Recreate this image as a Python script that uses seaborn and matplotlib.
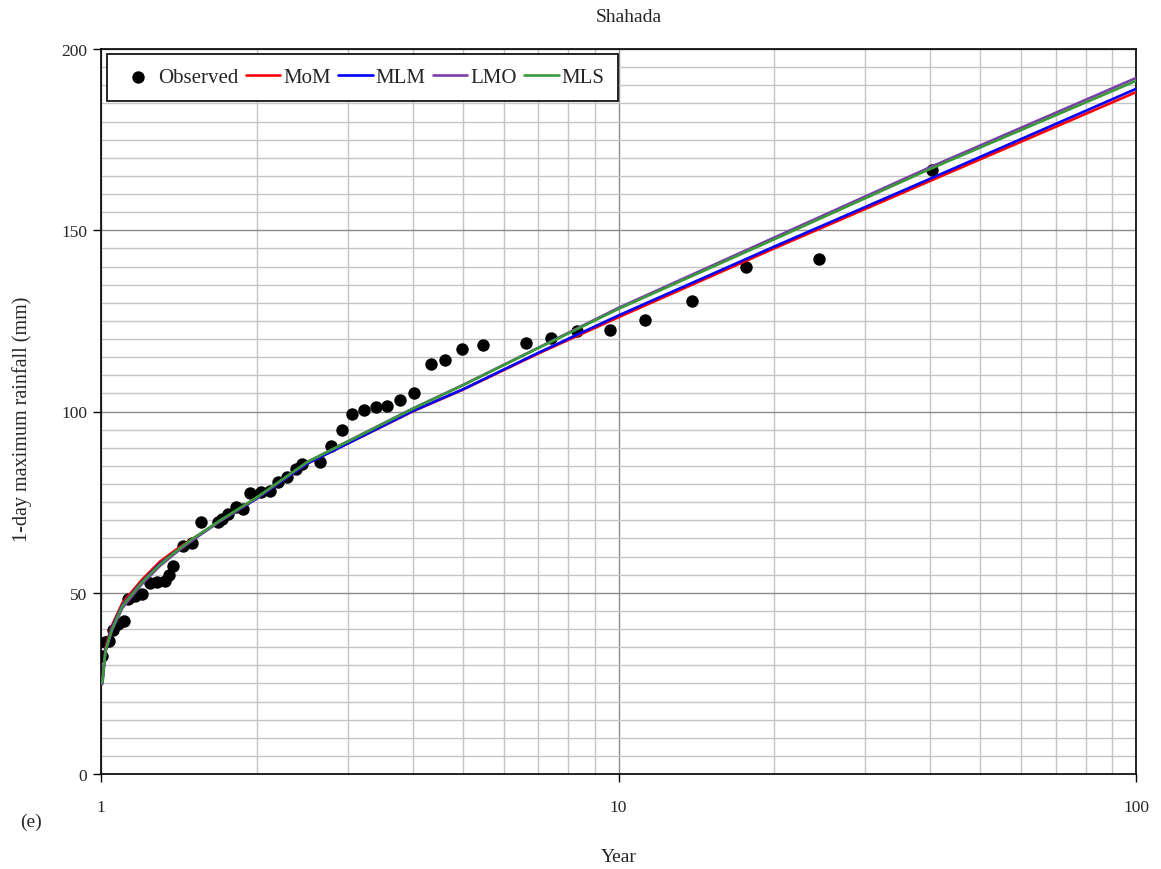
import numpy as np
import pandas as pd
import matplotlib
matplotlib.use('Agg')
import matplotlib.pyplot as plt
from matplotlib.ticker import FixedLocator, MultipleLocator, NullFormatter
import seaborn as sns

# Observed annual maxima (return period in years, rainfall in mm)
obs_T = [1.006, 1.018, 1.036, 1.056, 1.077, 1.109, 1.129, 1.163, 1.198, 1.244,
         1.281, 1.329, 1.355, 1.376, 1.442, 1.497, 1.558, 1.685, 1.711, 1.762,
         1.823, 1.878, 1.941, 2.038, 2.121, 2.194, 2.284, 2.381, 2.441, 2.646,
         2.779, 2.918, 3.056, 3.222, 3.396, 3.57, 3.78, 4.03, 4.34, 4.63,
         4.99, 5.47, 6.62, 7.39, 8.32, 9.62, 11.26, 13.84, 17.6, 24.4, 40.3]
obs_rain = [32.5, 36.3, 36.8, 39.8, 41.4, 42.3, 48.3, 49.2, 49.7, 52.7,
            53.0, 53.3, 54.9, 57.3, 62.8, 63.7, 69.4, 69.4, 70.3, 71.7,
            73.6, 73.1, 77.5, 77.9, 78.2, 80.6, 81.8, 84.1, 85.5, 86.2,
            90.6, 94.9, 99.3, 100.3, 101.2, 101.5, 103.2, 105.2, 113.2, 114.2,
            117.2, 118.3, 118.8, 120.3, 122.3, 122.6, 125.2, 130.6, 139.9, 142.2, 166.7]

# Fitted quantiles for each method
fit_T = [1.006, 1.02, 1.05, 1.1, 1.2, 1.3, 1.4, 1.5, 1.7, 2.0,
         2.5, 3.0, 4.0, 5.0, 7.0, 10.0, 20.0, 40.0, 100.0]
mom = [25.6, 34.8, 41.0, 47.2, 53.6, 58.6, 62.0, 64.8, 69.8, 76.0,
       85.6, 91.2, 100.0, 106.0, 116.0, 126.0, 145.0, 163.6, 188.1]
mlm = [25.2, 34.2, 40.4, 46.6, 53.0, 58.0, 61.6, 64.6, 69.8, 76.0,
       85.6, 91.2, 100.1, 106.1, 116.2, 126.5, 145.5, 164.2, 189.0]
lmo = [24.8, 33.6, 39.6, 45.8, 52.4, 57.4, 61.2, 64.4, 69.8, 76.2,
       86.0, 91.8, 100.8, 107.3, 117.6, 128.6, 148.0, 167.4, 192.0]
mls = [25.2, 34.0, 40.0, 46.4, 52.9, 57.8, 61.6, 64.8, 70.0, 76.3,
       86.0, 91.7, 100.7, 107.2, 117.5, 128.3, 147.5, 166.9, 191.2]

methods = ['MoM', 'MLM', 'LMO', 'MLS']
colors = ['#ff0000', '#0000ff', '#7b3fa8', '#3a9a3a']

obs = pd.DataFrame({'T': obs_T, 'rain': obs_rain})
fits = pd.DataFrame({'T': fit_T * 4,
                     'rain': mom + mlm + lmo + mls,
                     'method': [m for m in methods for _ in fit_T]})

sns.set_style('white')
plt.rcParams['font.family'] = ['Liberation Serif', 'DejaVu Serif']

fig = plt.figure(figsize=(11.61, 8.70), dpi=100)
ax = fig.add_axes([101 / 1161, 95 / 870, 1035 / 1161, 725 / 870])

sns.scatterplot(data=obs, x='T', y='rain', ax=ax, color='black', s=80,
                edgecolor='black', linewidth=0, zorder=3, label='Observed')
for m, c in zip(methods, colors):
    sns.lineplot(data=fits[fits['method'] == m], x='T', y='rain', ax=ax,
                 color=c, linewidth=1.9, zorder=4, label=m)

ax.set_xscale('log')
ax.set_xlim(1, 100)
ax.set_ylim(0, 200)
ax.xaxis.set_major_locator(FixedLocator([1, 10, 100]))
ax.set_xticklabels(['1', '10', '100'])
ax.xaxis.set_minor_locator(FixedLocator([2, 3, 4, 5, 6, 7, 8, 9,
                                         20, 30, 40, 50, 60, 70, 80, 90]))
ax.xaxis.set_minor_formatter(NullFormatter())
ax.yaxis.set_major_locator(MultipleLocator(50))
ax.yaxis.set_minor_locator(MultipleLocator(5))

ax.grid(which='major', color='#8c8c8c', linewidth=1.0)
ax.grid(which='minor', color='#c4c4c4', linewidth=1.0)
ax.set_axisbelow(True)
ax.tick_params(which='major', direction='out', length=6, width=1,
               color='black', labelsize=12.5, bottom=True, left=True)
ax.tick_params(axis='x', pad=12)
ax.tick_params(axis='y', pad=4)
ax.tick_params(which='minor', length=0)
for sp in ax.spines.values():
    sp.set_color('black')
    sp.set_linewidth(1.2)

ax.set_xlabel('Year', fontsize=14)
ax.set_ylabel('1-day maximum rainfall (mm)', fontsize=14.5)
ax.xaxis.set_label_coords(0.5, -0.102)
ax.yaxis.set_label_coords(-0.067, 0.49)
ax.set_title('Shahada', fontsize=14, x=0.51, y=1.027)
fig.text(0.017, 0.049, '(e)', fontsize=14)

leg = ax.legend(loc='upper left', ncol=5, fontsize=15, frameon=True,
                fancybox=False, edgecolor='black', framealpha=1,
                handlelength=1.65, handletextpad=0.15, columnspacing=0.35,
                borderpad=0.65, borderaxespad=0,
                bbox_to_anchor=(0.0058, 0.993))
leg.get_frame().set_linewidth(1.2)

fig.savefig('out.png', dpi=100)
